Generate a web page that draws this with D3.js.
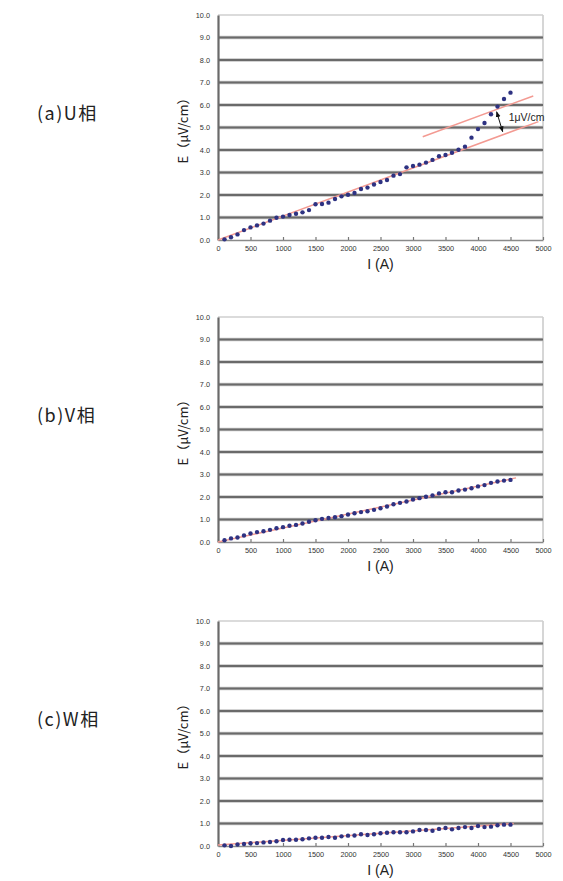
<!DOCTYPE html>
<html>
<head>
<meta charset="utf-8">
<script src="https://cdn.jsdelivr.net/npm/d3@7"></script>
<style>
  body { margin: 0; background: #fff; }
  svg { display: block; }
</style>
</head>
<body>
<div id="chart"></div>
<script>
// current (A)
const currentA = [100, 200, 300, 400, 500, 600, 700, 800, 900, 1000,
    1100, 1200, 1300, 1400, 1500, 1600, 1700, 1800, 1900, 2000,
    2100, 2200, 2300, 2400, 2500, 2600, 2700, 2800, 2900, 3000,
    3100, 3200, 3300, 3400, 3500, 3600, 3700, 3800, 3900, 4000,
    4100, 4200, 4300, 4400, 4500];

// E (uV/cm) per phase
const phaseU = [0.03, 0.12, 0.25, 0.44, 0.56, 0.65, 0.73, 0.86, 0.99, 1.04,
    1.11, 1.17, 1.23, 1.33, 1.59, 1.60, 1.66, 1.82, 1.94, 2.01,
    2.09, 2.27, 2.33, 2.47, 2.58, 2.67, 2.86, 2.93, 3.23, 3.29,
    3.35, 3.44, 3.56, 3.72, 3.78, 3.88, 4.01, 4.15, 4.55, 4.93,
    5.20, 5.59, 5.93, 6.27, 6.55];
const phaseV = [0.08, 0.16, 0.20, 0.29, 0.38, 0.44, 0.48, 0.54, 0.61, 0.66,
    0.72, 0.76, 0.82, 0.90, 0.97, 1.03, 1.07, 1.10, 1.15, 1.22,
    1.28, 1.33, 1.37, 1.43, 1.50, 1.58, 1.68, 1.74, 1.80, 1.89,
    1.95, 2.01, 2.07, 2.16, 2.21, 2.21, 2.29, 2.33, 2.39, 2.47,
    2.53, 2.63, 2.69, 2.73, 2.76];
const phaseW = [0.03, 0.00, 0.07, 0.09, 0.12, 0.13, 0.16, 0.18, 0.21, 0.27,
    0.28, 0.28, 0.30, 0.34, 0.37, 0.37, 0.40, 0.37, 0.43, 0.46,
    0.47, 0.52, 0.49, 0.52, 0.57, 0.59, 0.61, 0.61, 0.61, 0.65,
    0.71, 0.71, 0.68, 0.76, 0.80, 0.74, 0.80, 0.84, 0.80, 0.89,
    0.84, 0.86, 0.92, 0.95, 0.95];

// fitted lines [I, E]
const fitU = [[0, 0], [4930, 5.26]];
const fitUoffset = [[3150, 4.59], [4850, 6.40]];
const fitV = [[0, 0], [4585, 2.85]];
const fitW = [[0, 0.04], [4550, 1.0]];

const xTicks = [0, 500, 1000, 1500, 2000, 2500, 3000, 3500, 4000, 4500, 5000];
const yTicks = [0, 1, 2, 3, 4, 5, 6, 7, 8, 9, 10];
const panelLabels = ["(a)U相", "(b)V相", "(c)W相"];
const arrowU = [[4287, 5.70], [4380, 4.81]];
const arrowLabel = "1μV/cm";

const width = 563, height = 881;
const plot = {left: 218, right: 543, height: 225};
const panelTops = [15, 317, 621];
const latin = "'Liberation Sans', Arial, sans-serif";
const cjk = "'Noto Sans CJK JP', sans-serif";

const svg = d3.select("#chart").append("svg")
    .attr("width", width)
    .attr("height", height);

const defs = svg.append("defs");
defs.append("marker")
    .attr("id", "arrowhead")
    .attr("viewBox", "0 0 10 10")
    .attr("refX", 9).attr("refY", 5)
    .attr("markerWidth", 6).attr("markerHeight", 6)
    .attr("orient", "auto-start-reverse")
    .append("path")
    .attr("d", "M0,1 L10,5 L0,9 z")
    .attr("fill", "#111");

const x = d3.scaleLinear().domain([0, 5000]).range([plot.left, plot.right]);

const panels = [
    {values: phaseU, fits: [fitU, fitUoffset], label: panelLabels[0], arrow: true},
    {values: phaseV, fits: [fitV], label: panelLabels[1]},
    {values: phaseW, fits: [fitW], label: panelLabels[2]}
];

panels.forEach((p, idx) => {
    const top = panelTops[idx];
    const bottom = top + plot.height;
    const y = d3.scaleLinear().domain([0, 10]).range([bottom, top]);
    const g = svg.append("g");

    // right border
    g.append("line")
        .attr("x1", plot.right).attr("x2", plot.right)
        .attr("y1", top).attr("y2", bottom)
        .attr("stroke", "#c8c8c8").attr("stroke-width", 1.5);

    // gridlines
    yTicks.forEach(t => {
        if (t === 0) return;
        if (t === 10) {
            g.append("line")
                .attr("x1", plot.left).attr("x2", plot.right)
                .attr("y1", y(t)).attr("y2", y(t))
                .attr("stroke", "#cfcfcf").attr("stroke-width", 1.5);
            return;
        }
        g.append("line")
            .attr("x1", plot.left).attr("x2", plot.right)
            .attr("y1", y(t)).attr("y2", y(t))
            .attr("stroke", "#c4c4c4").attr("stroke-width", 3.5);
        g.append("line")
            .attr("x1", plot.left).attr("x2", plot.right)
            .attr("y1", y(t)).attr("y2", y(t))
            .attr("stroke", "#6a6a6a").attr("stroke-width", 1.8);
    });

    // x axis
    const xAxis = g.append("g")
        .attr("transform", `translate(0,${bottom})`)
        .call(d3.axisBottom(x).tickValues(xTicks).tickSize(3).tickPadding(3)
            .tickSizeOuter(0).tickFormat(d3.format("d")))
        .attr("font-family", latin);
    xAxis.select(".domain").attr("stroke", "#8a8a8a").attr("stroke-width", 1.5);
    xAxis.selectAll(".tick line").attr("stroke", "#777").attr("stroke-width", 1.2).attr("y1", -3).attr("y2", 0);
    xAxis.selectAll(".tick text").attr("font-size", 7.3).attr("fill", "#333");

    // y axis
    const yAxis = g.append("g")
        .attr("transform", `translate(${plot.left},0)`)
        .call(d3.axisLeft(y).tickValues(yTicks).tickSize(0).tickPadding(8).tickFormat(d3.format(".1f")))
        .attr("font-family", latin);
    yAxis.select(".domain").attr("stroke", "#6a6a6a").attr("stroke-width", 2.2);
    yAxis.selectAll(".tick text").attr("font-size", 7.3).attr("fill", "#333");

    // fitted lines
    const line = d3.line().x(d => x(d[0])).y(d => y(d[1]));
    p.fits.forEach(f => {
        g.append("path")
            .attr("d", line(f))
            .attr("fill", "none")
            .attr("stroke", "#f39a92")
            .attr("stroke-width", 1.5);
    });

    // points
    g.selectAll(".pt")
        .data(p.values.map((v, i) => [currentA[i], v]))
        .enter().append("circle")
        .attr("class", "pt")
        .attr("cx", d => x(d[0]))
        .attr("cy", d => y(d[1]))
        .attr("r", 2.2)
        .attr("fill", "#2e3282");

    if (p.arrow) {
        g.append("line")
            .attr("x1", x(arrowU[0][0])).attr("y1", y(arrowU[0][1]))
            .attr("x2", x(arrowU[1][0])).attr("y2", y(arrowU[1][1]))
            .attr("stroke", "#111").attr("stroke-width", 1)
            .attr("marker-start", "url(#arrowhead)")
            .attr("marker-end", "url(#arrowhead)");
        g.append("text")
            .attr("x", x(arrowU[1][0]) + 6)
            .attr("y", y(5.3))
            .attr("font-family", latin)
            .attr("font-size", 10.5)
            .attr("fill", "#222")
            .text(arrowLabel);
    }

    // axis titles
    g.append("text")
        .attr("x", (plot.left + plot.right) / 2)
        .attr("y", bottom + 29)
        .attr("text-anchor", "middle")
        .attr("font-family", latin)
        .attr("font-size", 14)
        .attr("fill", "#222")
        .text("I (A)");

    g.append("text")
        .attr("transform", `translate(${188},${(top + bottom) / 2}) rotate(-90)`)
        .attr("text-anchor", "middle")
        .attr("font-family", cjk)
        .attr("font-size", 13)
        .attr("fill", "#222")
        .text("E（μV/cm）");

    // panel label
    g.append("text")
        .attr("x", 37)
        .attr("y", (top + bottom) / 2 - 8)
        .attr("font-size", 18)
        .attr("letter-spacing", 1.5)
        .attr("fill", "#222")
        .attr("font-family", cjk)
        .text(p.label);
});
</script>
</body>
</html>
